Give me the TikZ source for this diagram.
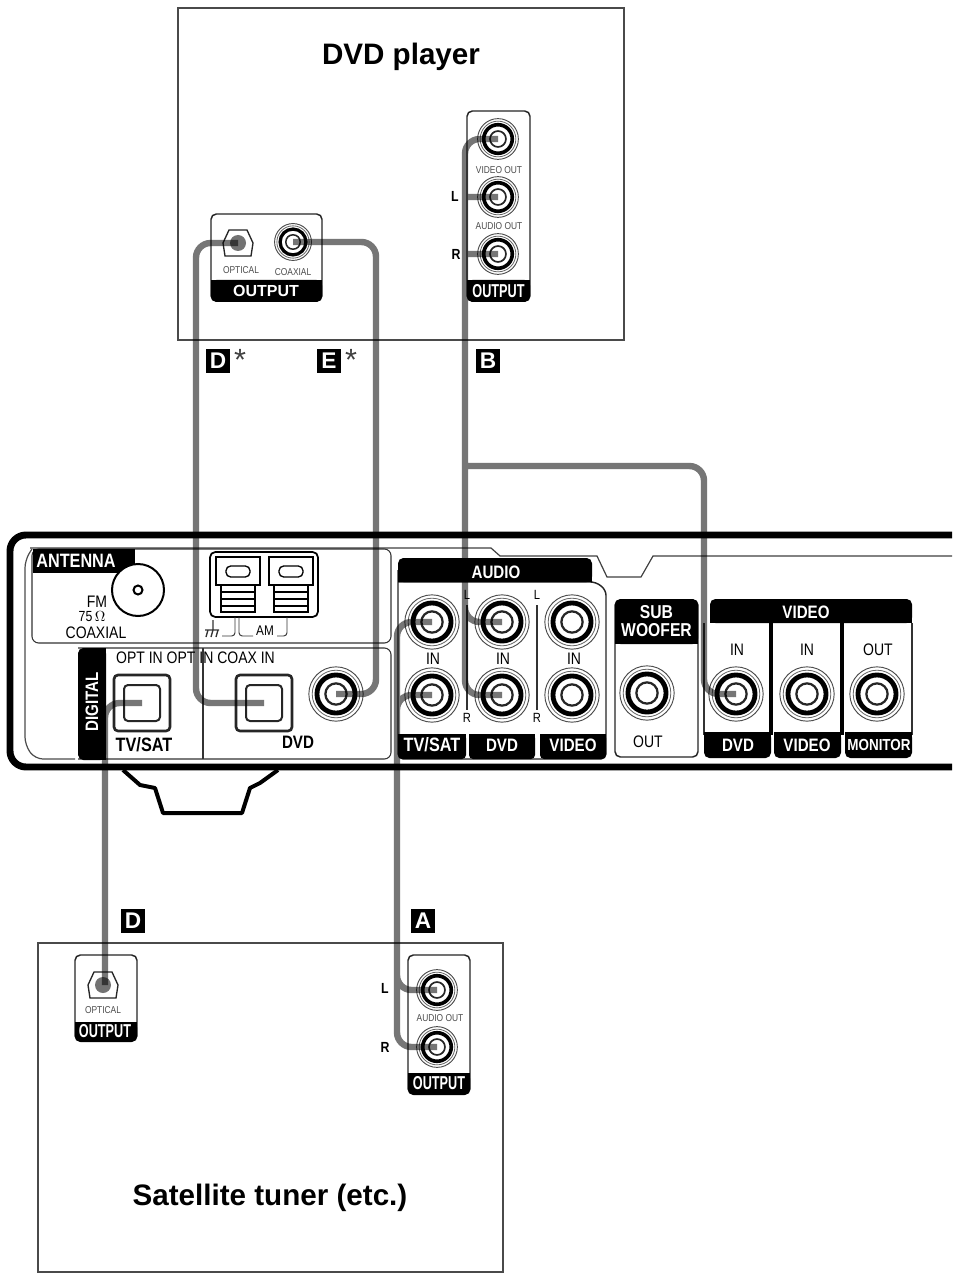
\documentclass[tikz,border=0pt]{standalone}
\usepackage{fontspec}
\setmainfont{Liberation Sans}
\newfontfamily\cond[FakeStretch=0.84]{Liberation Sans}
\newfontfamily\narrowb[FakeStretch=0.68]{Liberation Sans}
\usetikzlibrary{calc}
\definecolor{cablecol}{HTML}{767676}
\definecolor{boxline}{HTML}{4A4A4A}
\newcommand{\px}[1]{\fontsize{#1}{#1}\selectfont}
\tikzset{
  x=0.75pt,y=-0.75pt,
  cable/.style={draw=cablecol,line width=4.8pt,rounded corners=11pt,line cap=butt},
  devicebox/.style={draw=boxline,line width=1.5pt},
  thinline/.style={draw=black!80,line width=0.8pt},
  panel/.style={draw=black!85,line width=1.1pt,fill=white,rounded corners=4pt},
  blackbar/.style={fill=black,rounded corners=4pt},
  wlab/.style={text=white,font=\cond\bfseries\px{13.5},inner sep=0pt},
  outlab/.style={text=white,font=\narrowb\bfseries\px{14},inner sep=0pt},
  klab/.style={text=black,font=\cond\px{12.5},inner sep=0pt},
  tiny/.style={text=black!70,font=\cond\px{7.5},inner sep=0pt},
  keylab/.style={fill=black,text=white,font=\bfseries\px{17},minimum width=18pt,minimum height=17.5pt,inner sep=0pt},
  title/.style={font=\bfseries\px{22.2},inner sep=0pt},
  lr/.style={font=\cond\bfseries\px{11},inner sep=0pt},
  starlab/.style={font=\px{23},inner sep=0pt,text=black!75},
}
% #1 name, #2 x, #3 y, #4 outer radius in px
\newcommand{\jack}[4]{%
  \coordinate (#1) at (#2,#3);
  \fill[white] (#1) circle ({#4});
  \draw[black!70,line width=0.7pt] (#1) circle ({#4*0.97});
  \draw[black!60,line width=0.6pt] (#1) circle ({#4*0.85});
  \draw[black,line width={#4*0.13pt}] (#1) circle ({#4*0.68});
  \draw[black!85,line width={#4*0.06pt}] (#1) circle ({#4*0.38});
}
% #1 name, #2 x, #3 y
\newcommand{\optin}[3]{%
  \coordinate (#1) at (#2,#3);
  \draw[black!85,line width=2pt,fill=white,rounded corners=3pt] ($(#1)+(-28,-28)$) rectangle ($(#1)+(28,28)$);
  \draw[black!85,line width=1.5pt,rounded corners=3pt] ($(#1)+(-18,-18)$) rectangle ($(#1)+(18,18)$);
}
\newcommand{\optout}[3]{%
  \coordinate (#1) at (#2,#3);
  \draw[black!85,line width=1pt,fill=white] ($(#1)+(-9,-13)$) -- ($(#1)+(9,-13)$) -- ($(#1)+(15,0)$) -- ($(#1)+(13,13)$) -- ($(#1)+(-13,13)$) -- ($(#1)+(-15,0)$) -- cycle;
  \fill[black!55] (#1) circle (8);
}
\newcommand{\term}[2]{%
  \draw[black,line width=1.3pt,fill=white] (#1,#2) rectangle ++(44,28);
  \draw[black,line width=1pt,rounded corners=3.5pt] (#1+10,#2+9) rectangle ++(24,11);
  \draw[black,line width=1.2pt,fill=white] (#1+5,#2+28) rectangle ++(34,27);
  \foreach \k in {7,14,21}{\draw[black,line width=1.2pt] (#1+5,#2+28+\k) -- ++(34,0);}
  \draw[black,line width=2.2pt] (#1+7,#2+55) -- ++(30,0);
}
\begin{document}
\begin{tikzpicture}
\useasboundingbox (0,0) rectangle (956,1276);
\fill[white] (0,0) rectangle (956,1276);

% device boxes
\draw[devicebox] (178,8) rectangle (624,340);
\draw[devicebox] (38,943) rectangle (503,1272);
\node[title] (tdvd) at (401,56.5) {DVD player};
\node[title] (tsat) at (270,1197.5) {Satellite tuner (etc.)};

% DVD player panels
\draw[panel] (211,214) rectangle (322,301);
\fill[blackbar] (211,280) rectangle (322,302);
\fill[black] (211,280) rectangle (322,290);
\node[text=white,font=\bfseries\px{12},inner sep=0pt] (lo1) at (266,291) {OUTPUT};
\optout{poptd}{238}{243}
\jack{pcoax}{293}{242}{19}
\node[tiny] (lopt1) at (241,270) {OPTICAL};
\node[tiny] (lcoax1) at (293,272) {COAXIAL};

\draw[panel] (467,111) rectangle (530,301);
\fill[blackbar] (467,280) rectangle (530,302);
\fill[black] (467,280) rectangle (530,290);
\node[outlab] (lo2) at (498.5,291) {OUTPUT};
\jack{pvid}{498}{139}{21}
\jack{pl}{498}{197}{21}
\jack{pr}{498}{254}{21}
\node[tiny] (lvo) at (499,170) {VIDEO OUT};
\node[tiny] (lao) at (499,226) {AUDIO OUT};
\node[lr] (lpl) at (455,196) {L};
\node[lr] (lpr) at (456,254) {R};

% key letters
\node[keylab] (kd1) at (218,361) {D};
\node[starlab] (st1) at (240,360) {*};
\node[keylab] (ke) at (329,361) {E};
\node[starlab] (st2) at (351,360) {*};
\node[keylab] (kb) at (488,361) {B};
\node[keylab] (kd2) at (133,921) {D};
\node[keylab] (ka) at (423,921) {A};

% receiver chassis
\draw[black,line width=5.2pt,rounded corners=12pt] (952,535) -- (10,535) -- (10,767) -- (952,767);
\draw[black!75,line width=0.9pt] (952,556) -- (653,556) -- (641,577) -- (607,577) -- (597,556) -- (500,556) -- (491,548) -- (30,548);
\draw[black!70,line width=0.9pt,rounded corners=6pt] (32,549) -- (25,560) -- (25,745) -- (35,759) -- (75,759);
\draw[black,line width=3pt,line join=round] (123,770) -- (140,785) -- (155,788) -- (163,813) -- (242,813) -- (250,788) -- (260,783) -- (278,770);

% antenna section
\draw[thinline,rounded corners=5pt] (32,549) rectangle (391,643);
\fill[black] (33,549) rectangle (135,573);
\node[text=white,font=\cond\bfseries\px{14.5},inner sep=0pt] (lant) at (76,561) {ANTENNA};
\draw[black,line width=1.5pt,fill=white] (138,590) circle (26);
\draw[black,line width=1.5pt] (138,590) circle (4.5);
\node[klab] (lfm) at (97,602) {FM};
\node[klab,font=\cond\px{11}] (l75) at (92,617) {75\,$\Omega$};
\node[klab] (lcx) at (96,633) {COAXIAL};
\draw[black,line width=1.3pt,rounded corners=4pt] (210,552) rectangle (318,617);
\term{216}{557}
\term{269}{557}
\draw[black!80,line width=0.7pt,rounded corners=2.5pt] (235,617) -- (235,636) -- (222,636);
\draw[black!80,line width=0.7pt,rounded corners=2.5pt] (239,617) -- (239,636) -- (253,636);
\draw[black!80,line width=0.7pt,rounded corners=2.5pt] (287,617) -- (287,636) -- (277,636);
\draw[black!80,line width=1pt] (205,630) -- (219,630) (213,620) -- (213,630) (208,630) -- (206,637) (213,630) -- (211,637) (218,630) -- (216,637);
\node[klab,font=\cond\px{10.5}] (lam) at (265,631) {AM};

% digital section
\draw[thinline,rounded corners=5pt] (78,648) -- (391,648) -- (391,759) -- (78,759);
\draw[thinline] (203,648) -- (203,759);
\fill[black,rounded corners=4pt] (78,648) rectangle (106,760);
\fill[black] (95,648) rectangle (106,760);
\node[wlab,rotate=90] (ldig) at (92,702) {DIGITAL};
\node[klab,font=\cond\px{12.5}] (lopts) at (195.5,658) {OPT IN OPT IN COAX IN};
\optin{intv}{142}{703}
\optin{indv}{264}{703}
\jack{incoax}{336}{694}{28}
\node[text=black,font=\cond\bfseries\px{14.5},inner sep=0pt] (ltv) at (144,745) {TV/SAT};
\node[text=black,font=\cond\bfseries\px{13.5},inner sep=0pt] (ldv) at (298,742) {DVD};

% audio section
\draw[panel] (398,570) -- (398,759) -- (606,759) -- (606,590) -- (596,582) -- (398,582);
\fill[black,rounded corners=4pt] (398,558) rectangle (592,582);
\fill[black] (398,572) rectangle (592,582);
\node[wlab] (laud) at (496,572) {AUDIO};
\foreach \xa/\xb in {398/466,469/535,540/606}{
  \fill[black,rounded corners=3pt] (\xa,734) rectangle (\xb,759);
  \fill[black] (\xa,734) rectangle (\xb,746);
}
\node[wlab,font=\cond\bfseries\px{14.5}] (b1) at (432,745) {TV/SAT};
\node[wlab] (b2) at (502,745) {DVD};
\node[wlab] (b3) at (573,745) {VIDEO};
\draw[black!80,line width=1.6pt] (537,605) -- (537,710) (467,605) -- (467,710);
\node[lr,font=\cond\px{10}] (ll1) at (467,595) {L};
\node[lr,font=\cond\px{10}] (ll2) at (537,595) {L};
\node[lr,font=\cond\px{10}] (lr1) at (467,718) {R};
\node[lr,font=\cond\px{10}] (lr2) at (537,718) {R};
\jack{atl}{432}{622}{28}
\jack{atr}{432}{695}{28}
\jack{adl}{502}{622}{28}
\jack{adr}{502}{695}{28}
\jack{avl}{572}{622}{28}
\jack{avr}{572}{695}{28}
\node[klab] (i1) at (433,659) {IN};
\node[klab] (i2) at (503,659) {IN};
\node[klab] (i3) at (574,659) {IN};

% subwoofer
\draw[panel] (615,600) rectangle (698,757);
\fill[blackbar] (615,599) rectangle (698,644);
\fill[black] (615,630) rectangle (698,644);
\node[wlab,align=center,font=\cond\bfseries\px{14}] (lsub) at (656.5,621) {SUB\\[-1pt]WOOFER};
\jack{asub}{647}{693}{28}
\node[klab] (lout) at (648,742) {OUT};

% video
\fill[blackbar] (710,599) rectangle (912,623);
\fill[black] (710,612) rectangle (912,623);
\node[wlab] (lvid) at (806,612) {VIDEO};
\draw[thinline] (704,623) -- (704,735) (912,623) -- (912,735);
\draw[black,line width=2.4pt] (771,623) -- (771,735) (842,623) -- (842,735);
\foreach \xa/\xb in {704/771,774/841,845/912}{
  \fill[black,rounded corners=4pt] (\xa,732) rectangle (\xb,758);
  \fill[black] (\xa,732) rectangle (\xb,745);
}
\node[wlab] (v1) at (738,745) {DVD};
\node[wlab] (v2) at (807,745) {VIDEO};
\node[wlab,font=\cond\bfseries\px{12}] (v3) at (879,745) {MONITOR};
\jack{vd}{736}{694}{28}
\jack{vv}{807}{694}{28}
\jack{vm}{877}{694}{28}
\node[klab] (v4) at (737,650) {IN};
\node[klab] (v5) at (807,650) {IN};
\node[klab] (v6) at (878,650) {OUT};

% satellite panels
\draw[panel] (75,955) rectangle (137,1041);
\fill[blackbar] (75,1022) rectangle (137,1042);
\fill[black] (75,1022) rectangle (137,1032);
\optout{soptic}{103}{985}
\node[tiny] (sop) at (103,1010) {OPTICAL};
\node[outlab] (so1) at (105,1031) {OUTPUT};
\draw[panel] (408,955) rectangle (470,1094);
\fill[blackbar] (408,1073) rectangle (470,1095);
\fill[black] (408,1073) rectangle (470,1084);
\jack{sl}{437}{990}{21}
\jack{sr}{437}{1047}{21}
\node[tiny] (sao) at (440,1018) {AUDIO OUT};
\node[outlab] (so2) at (439,1083) {OUTPUT};
\node[lr] (sll) at (385,988) {L};
\node[lr] (slr) at (385,1047) {R};

% bend coordinates
\coordinate (bDstar) at (196,470);
\coordinate (bEstar) at (376,470);
\coordinate (trunkB) at (465,470);
\coordinate (trunkA) at (397,850);
\coordinate (bSub) at (704,466);
\coordinate (bDlow) at (105,850);

% cables: one path, so that overlapping runs do not darken each other
\begin{scope}[blend mode=multiply]
\draw[cable]
  (poptd) -| (bDstar) |- (indv)
  (pcoax) -| (bEstar) |- (incoax)
  (pvid) -| (trunkB) |- (adl)
  (trunkB) |- (adr)
  (pl) -- (pl -| trunkB)
  (pr) -- (pr -| trunkB)
  (trunkB |- bSub) -- (bSub) -- (bSub |- vd) -- (vd)
  (atl) -| (trunkA) |- (sl)
  (atr) -| (trunkA) |- (sr)
  (intv) -| (bDlow) -- (bDlow |- soptic);
\end{scope}
\end{tikzpicture}
\end{document}
